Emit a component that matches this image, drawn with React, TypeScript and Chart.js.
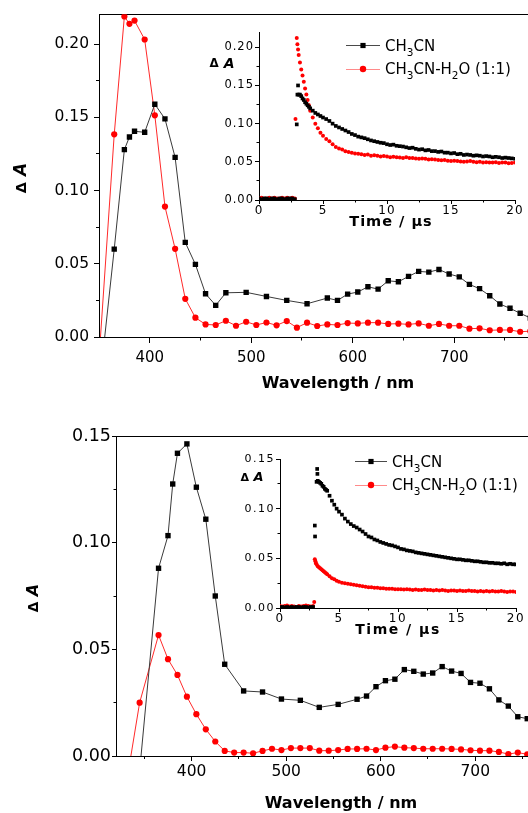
import React, { useEffect, useRef } from 'react';
import { Chart, registerables } from 'chart.js';

Chart.register(...registerables);

const FONT = '"DejaVu Sans", "Liberation Sans", sans-serif';

// ---------------- Panel A : transient spectra ----------------
const topXTicks = [400, 500, 600, 700, 800];
const topXMinor = [450, 550, 650, 750];
const topYTicks = [0, 0.05, 0.1, 0.15, 0.2];
const topYMinor = [0.025, 0.075, 0.125, 0.175];

const topBlackNm = [345, 365, 375, 380, 385, 395, 405, 415, 425, 435, 445, 455, 465, 475, 495, 515, 535, 555, 575, 585, 595, 605, 615, 625, 635, 645, 655, 665, 675, 685, 695, 705, 715, 725, 735, 745, 755, 765, 775];
const topBlackVal = [-0.068, 0.06, 0.128, 0.1366, 0.1405, 0.1398, 0.159, 0.149, 0.1227, 0.0646, 0.0496, 0.0295, 0.0216, 0.0302, 0.0305, 0.0277, 0.025, 0.0227, 0.0266, 0.025, 0.0293, 0.0307, 0.0343, 0.0327, 0.0384, 0.0377, 0.0414, 0.0448, 0.0443, 0.0461, 0.043, 0.0411, 0.0359, 0.033, 0.0282, 0.0225, 0.0196, 0.0162, 0.013];
const topRedNm = [345, 365, 375, 380, 385, 395, 405, 415, 425, 435, 445, 455, 465, 475, 485, 495, 505, 515, 525, 535, 545, 555, 565, 575, 585, 595, 605, 615, 625, 635, 645, 655, 665, 675, 685, 695, 705, 715, 725, 735, 745, 755, 765, 775];
const topRedVal = [-0.066, 0.1384, 0.2189, 0.2139, 0.2161, 0.2032, 0.1514, 0.0891, 0.0602, 0.0261, 0.0132, 0.0086, 0.0082, 0.0111, 0.0077, 0.0104, 0.0082, 0.0099, 0.008, 0.0109, 0.0064, 0.0098, 0.0075, 0.0086, 0.0082, 0.0095, 0.0093, 0.0098, 0.0098, 0.0089, 0.0091, 0.0086, 0.0093, 0.0077, 0.0089, 0.0077, 0.0077, 0.0057, 0.0059, 0.0046, 0.0048, 0.0048, 0.0036, 0.004];

// ---------------- Panel B : transient spectra ----------------
const botXTicks = [400, 500, 600, 700];
const botXMinor = [350, 450, 550, 650, 750];
const botYTicks = [0, 0.05, 0.1, 0.15];
const botYMinor = [0.025, 0.075, 0.125];

const botBlackNm = [345, 365, 375, 380, 385, 395, 405, 415, 425, 435, 455, 475, 495, 515, 535, 555, 575, 585, 595, 605, 615, 625, 635, 645, 655, 665, 675, 685, 695, 705, 715, 725, 735, 745, 755, 765];
const botBlackVal = [-0.007, 0.088, 0.1033, 0.1275, 0.1419, 0.1463, 0.126, 0.111, 0.075, 0.043, 0.0305, 0.03, 0.0267, 0.0261, 0.0228, 0.0242, 0.0266, 0.0281, 0.0325, 0.0353, 0.036, 0.0405, 0.0397, 0.0384, 0.0389, 0.0419, 0.0398, 0.0387, 0.0345, 0.0341, 0.0315, 0.0263, 0.0234, 0.0184, 0.0175, 0.016];
const botRedNm = [325, 345, 365, 375, 385, 395, 405, 415, 425, 435, 445, 455, 465, 475, 485, 495, 505, 515, 525, 535, 545, 555, 565, 575, 585, 595, 605, 615, 625, 635, 645, 655, 665, 675, 685, 695, 705, 715, 725, 735, 745, 755, 765];
const botRedVal = [-0.029, 0.025, 0.0567, 0.0454, 0.038, 0.0278, 0.0196, 0.0125, 0.0068, 0.0024, 0.0016, 0.0016, 0.0013, 0.0024, 0.0034, 0.0028, 0.0037, 0.0037, 0.0037, 0.0025, 0.0025, 0.0028, 0.0033, 0.0033, 0.0034, 0.0028, 0.0039, 0.0044, 0.0039, 0.0037, 0.0034, 0.0034, 0.0034, 0.0033, 0.0031, 0.0027, 0.0025, 0.0025, 0.0019, 0.0009, 0.0016, 0.0008, 0.001];

// ---------------- Insets : kinetic traces ----------------
const insetXTicks = [0, 5, 10, 15, 20];
const insetXMinor = [2.5, 7.5, 12.5, 17.5];
const topInsetYTicks = [0, 0.05, 0.1, 0.15, 0.2];
const topInsetYMinor = [0.025, 0.075, 0.125, 0.175];
const botInsetYTicks = [0, 0.05, 0.1, 0.15];
const botInsetYMinor = [0.025, 0.075, 0.125];

const preT = [0, 0.2, 0.4, 0.6, 0.8, 1.0, 1.2, 1.4, 1.6, 1.8, 2.0, 2.2, 2.4, 2.6, 2.8];
const riseT = [3.1, 3.2, 3.3, 3.4, 3.5, 3.6, 3.7, 3.8, 3.9, 4.0, 4.2, 4.4, 4.6, 4.8, 5.0];
const tailT = [5.25, 5.5, 5.75, 6, 6.25, 6.5, 6.75, 7, 7.25, 7.5, 7.75, 8, 8.25, 8.5, 8.75, 9, 9.25, 9.5, 9.75, 10, 10.25, 10.5, 10.75, 11, 11.25, 11.5, 11.75, 12, 12.25, 12.5, 12.75, 13, 13.25, 13.5, 13.75, 14, 14.25, 14.5, 14.75, 15, 15.25, 15.5, 15.75, 16, 16.25, 16.5, 16.75, 17, 17.25, 17.5, 17.75, 18, 18.25, 18.5, 18.75, 19, 19.25, 19.5, 19.75, 20];
const decayT = [...riseT, ...tailT];

// inset A, CH3CN
const aBlackPre = [0.002, 0.001, 0.002, 0.002, 0.001, 0.002, 0.002, 0.001, 0.002, 0.002, 0.001, 0.002, 0.002, 0.002, 0.001];
const aBlackOnsetT = [2.95, 3.0, 3.05];
const aBlackOnsetV = [0.099, 0.138, 0.15];
const aBlackDecay = [0.138, 0.138, 0.136, 0.133, 0.131, 0.128, 0.126, 0.124, 0.122, 0.12, 0.117, 0.114, 0.112, 0.11, 0.108,
  0.106, 0.1035, 0.1, 0.097, 0.095, 0.093, 0.091, 0.089, 0.0865, 0.085,
  0.083, 0.082, 0.081, 0.0795, 0.078, 0.077, 0.076, 0.075, 0.0745, 0.073,
  0.072, 0.0725, 0.071, 0.0705, 0.07, 0.069, 0.068, 0.0685, 0.067, 0.066,
  0.0665, 0.065, 0.0655, 0.064, 0.064, 0.063, 0.0635, 0.062, 0.062, 0.061,
  0.0615, 0.06, 0.0605, 0.059, 0.0595, 0.059, 0.058, 0.0585, 0.058, 0.057,
  0.0575, 0.057, 0.056, 0.0565, 0.056, 0.055, 0.0555, 0.055, 0.0545, 0.054];
// inset A, CH3CN-H2O
const aRedPre = [0.002, 0.003, 0.002, 0.002, 0.003, 0.002, 0.003, 0.002, 0.002, 0.003, 0.002, 0.003, 0.002, 0.003, 0.002];
const aRedOnsetT = [2.85, 2.95, 3.0, 3.05];
const aRedOnsetV = [0.106, 0.212, 0.204, 0.197];
const aRedDecay = [0.19, 0.18, 0.171, 0.163, 0.155, 0.146, 0.138, 0.131, 0.124, 0.117, 0.108, 0.1, 0.094, 0.088, 0.084,
  0.08, 0.077, 0.073, 0.0695, 0.0675, 0.066, 0.064, 0.063, 0.062, 0.061,
  0.0605, 0.06, 0.059, 0.0595, 0.058, 0.0585, 0.058, 0.057, 0.0575, 0.057,
  0.056, 0.0565, 0.056, 0.0555, 0.055, 0.056, 0.055, 0.055, 0.0545, 0.054,
  0.0545, 0.054, 0.053, 0.0535, 0.053, 0.0525, 0.052, 0.0525, 0.0515, 0.051,
  0.0515, 0.051, 0.0505, 0.05, 0.0505, 0.051, 0.05, 0.0495, 0.05, 0.049,
  0.0495, 0.049, 0.049, 0.0495, 0.0485, 0.049, 0.049, 0.048, 0.0485, 0.049];
// inset B, CH3CN
const bBlackPre = [0.001, 0.001, 0.0005, 0.001, 0.0005, 0.001, 0.0005, 0.001, 0.001, 0.0005, 0.001, 0.001, 0.0005, 0.001, 0.001];
const bBlackOnsetT = [2.95, 2.97, 3.15, 3.17];
const bBlackOnsetV = [0.083, 0.072, 0.14, 0.135];
const bBlackDecay = [0.127, 0.128, 0.127, 0.126, 0.125, 0.123, 0.122, 0.12, 0.119, 0.118, 0.113, 0.108, 0.104, 0.1, 0.097,
  0.094, 0.09, 0.087, 0.0845, 0.0825, 0.081, 0.079, 0.077, 0.0745, 0.072,
  0.071, 0.069, 0.068, 0.0665, 0.0655, 0.0645, 0.0635, 0.063, 0.062, 0.061,
  0.0595, 0.059, 0.058, 0.0575, 0.057, 0.056, 0.0555, 0.055, 0.0545, 0.054,
  0.0535, 0.053, 0.0525, 0.052, 0.0515, 0.051, 0.0505, 0.05, 0.0495, 0.049,
  0.049, 0.0485, 0.048, 0.048, 0.0475, 0.047, 0.047, 0.0465, 0.046, 0.046,
  0.0455, 0.0455, 0.045, 0.045, 0.0445, 0.045, 0.044, 0.0445, 0.044, 0.044];
// inset B, CH3CN-H2O
const bRedPre = [0.002, 0.0015, 0.002, 0.0025, 0.0015, 0.002, 0.0015, 0.001, 0.002, 0.0015, 0.002, 0.0025, 0.002, 0.0015, 0.002];
const bRedOnsetT = [2.9, 2.95, 3.0, 3.05];
const bRedOnsetV = [0.006, 0.049, 0.047, 0.045];
const bRedDecay = [0.044, 0.042, 0.041, 0.04, 0.039, 0.038, 0.037, 0.036, 0.035, 0.034, 0.032, 0.03, 0.029, 0.0275, 0.0265,
  0.0255, 0.025, 0.0245, 0.024, 0.0235, 0.023, 0.0225, 0.022, 0.0215, 0.021,
  0.021, 0.0205, 0.0205, 0.02, 0.02, 0.0195, 0.0195, 0.0195, 0.019, 0.019,
  0.019, 0.0185, 0.019, 0.0185, 0.018, 0.0185, 0.018, 0.018, 0.0185, 0.018,
  0.018, 0.0175, 0.018, 0.0175, 0.018, 0.0175, 0.017, 0.0175, 0.0175, 0.017,
  0.0175, 0.017, 0.017, 0.0175, 0.017, 0.017, 0.0165, 0.017, 0.0165, 0.017,
  0.0165, 0.017, 0.0165, 0.0165, 0.017, 0.0165, 0.016, 0.0165, 0.0165, 0.016];

const legendLabels: [string, boolean][][] = [
  [['CH', false], ['3', true], ['CN', false]],
  [['CH', false], ['3', true], ['CN-H', false], ['2', true], ['O (1:1)', false]],
];

// ---------------- helpers ----------------
type Pt = { x: number; y: number };
const pts = (xs: number[], ys: number[]): Pt[] => xs.map((x, i) => ({ x, y: ys[i] }));

const alignPx = (p: number) => Math.round(p - 0.5) + 0.5;

interface Axis {
  min: number; max: number; ticks: number[]; minor: number[];
  font: number; pad: number; tickLen: number; minorLen: number;
  fmt: (v: number) => string;
}

function scaleOpts(a: Axis, pos: 'bottom' | 'left', size: number, title?: any) {
  return {
    type: 'linear',
    position: pos,
    min: a.min,
    max: a.max,
    afterBuildTicks: (s: any) => { s.ticks = a.ticks.map((v) => ({ value: v })); },
    afterFit: (s: any) => { if (pos === 'left') s.width = size; else s.height = size; },
    ticks: {
      font: { family: FONT, size: a.font },
      color: '#000',
      padding: a.pad,
      maxRotation: 0,
      autoSkip: false,
      callback: (v: any) => a.fmt(Number(v)),
    },
    grid: { display: true, drawOnChartArea: false, drawTicks: true, tickLength: a.tickLen, tickColor: '#000', tickWidth: 1 },
    border: { display: true, color: '#000', width: 1 },
    title: title || { display: false },
  };
}

function drawMinor(chart: any, id: string, a: Axis) {
  const s = chart.scales[id];
  const ctx = chart.ctx;
  ctx.save();
  ctx.strokeStyle = '#000';
  ctx.lineWidth = 1;
  ctx.beginPath();
  for (const v of a.minor) {
    if (v <= a.min || v > a.max) continue;
    const p = alignPx(s.getPixelForValue(v));
    if (s.isHorizontal()) {
      ctx.moveTo(p, s.top);
      ctx.lineTo(p, s.top + a.minorLen);
    } else {
      ctx.moveTo(s.right - a.minorLen, p);
      ctx.lineTo(s.right, p);
    }
  }
  ctx.stroke();
  ctx.restore();
}

function drawDeltaA(ctx: any, cx: number, cy: number, size: number, rotate: boolean) {
  ctx.save();
  ctx.translate(cx, cy);
  if (rotate) ctx.rotate(-Math.PI / 2);
  ctx.fillStyle = '#000';
  ctx.textBaseline = 'middle';
  ctx.textAlign = 'left';
  const f1 = `bold ${size * 0.85}px ${FONT}`;
  const f2 = `italic bold ${size}px ${FONT}`;
  ctx.font = f1;
  const w1 = ctx.measureText('Δ').width;
  const gap = size * 0.35;
  ctx.font = f2;
  const w2 = ctx.measureText('A').width;
  const start = -(w1 + gap + w2) / 2;
  ctx.font = f1;
  ctx.fillText('Δ', start, 0);
  ctx.font = f2;
  ctx.fillText('A', start + w1 + gap, 0);
  ctx.restore();
}

function drawRich(ctx: any, x: number, cy: number, parts: [string, boolean][], size: number) {
  ctx.save();
  ctx.fillStyle = '#000';
  ctx.textAlign = 'left';
  ctx.textBaseline = 'alphabetic';
  const base = cy + size * 0.365;
  let cx = x;
  for (const [t, sub] of parts) {
    ctx.font = `${sub ? size * 0.7 : size}px ${FONT}`;
    ctx.fillText(t, cx, sub ? base + size * 0.33 : base);
    cx += ctx.measureText(t).width;
  }
  ctx.restore();
}

interface MainSpec {
  W: number; H: number;
  area: { left: number; top: number; right: number; bottom: number };
  x: Axis; y: Axis;
  titleSize: number; titlePad: number;
  delta: { x: number; y: number; size: number };
  black: Pt[]; red: Pt[];
}

function mainConfig(m: MainSpec): any {
  return {
    type: 'scatter',
    data: {
      datasets: [
        {
          data: m.black, xAxisID: 'x', yAxisID: 'y', showLine: true,
          borderColor: '#3a3a3a', borderWidth: 1,
          pointStyle: 'rect', pointRadius: 3.8, pointBackgroundColor: '#000', pointBorderWidth: 0,
        },
        {
          data: m.red, xAxisID: 'x', yAxisID: 'y', showLine: true,
          borderColor: '#ff2a2a', borderWidth: 1,
          pointStyle: 'circle', pointRadius: 3.1, pointBackgroundColor: '#ff0000', pointBorderWidth: 0,
        },
      ],
    },
    options: {
      responsive: false,
      animation: false,
      events: [],
      layout: { padding: { left: 0, top: 0, right: m.W - m.area.right, bottom: 0 } },
      plugins: { legend: { display: false }, tooltip: { enabled: false } },
      scales: {
        x: scaleOpts(m.x, 'bottom', m.H - m.area.bottom, {
          display: true, text: 'Wavelength / nm', color: '#000',
          font: { family: FONT, size: m.titleSize, weight: 'bold' },
          padding: { top: 0, bottom: m.titlePad },
        }),
        x2: {
          type: 'linear', position: 'top', min: m.x.min, max: m.x.max,
          ticks: { display: false }, grid: { display: false },
          border: { display: true, color: '#000', width: 1 },
          afterFit: (s: any) => { s.height = m.area.top; },
        },
        y: scaleOpts(m.y, 'left', m.area.left),
      },
    },
    plugins: [
      {
        id: 'mainExtras',
        afterDraw(chart: any) {
          drawMinor(chart, 'x', m.x);
          drawMinor(chart, 'y', m.y);
          drawDeltaA(chart.ctx, m.delta.x, m.delta.y, m.delta.size, true);
        },
      },
    ],
  };
}

interface InsetSpec {
  W: number; H: number;
  area: { left: number; top: number; right: number; bottom: number };
  x: Axis; y: Axis;
  spacing: string;
  title: { x: number; y: number; size: number };
  delta: { x: number; y: number; size: number };
  legend: { x1: number; x2: number; mx: number; tx: number; y: number[]; size: number };
  black: Pt[]; red: Pt[];
}

function insetConfig(s: InsetSpec): any {
  return {
    type: 'scatter',
    data: {
      datasets: [
        {
          data: s.black, xAxisID: 'x', yAxisID: 'y', showLine: false,
          pointStyle: 'rect', pointRadius: 2.6, pointBackgroundColor: '#000', pointBorderWidth: 0,
        },
        {
          data: s.red, xAxisID: 'x', yAxisID: 'y', showLine: false,
          pointStyle: 'circle', pointRadius: 2.0, pointBackgroundColor: '#ff0000', pointBorderWidth: 0,
        },
      ],
    },
    options: {
      responsive: false,
      animation: false,
      events: [],
      layout: { padding: { left: 0, top: s.area.top, right: s.W - s.area.right, bottom: 0 } },
      plugins: { legend: { display: false }, tooltip: { enabled: false } },
      scales: {
        x: scaleOpts(s.x, 'bottom', s.H - s.area.bottom),
        y: scaleOpts(s.y, 'left', s.area.left),
      },
    },
    plugins: [
      {
        id: 'insetExtras',
        beforeLayout(chart: any) { chart.ctx.letterSpacing = s.spacing; },
        afterLayout(chart: any) { chart.ctx.letterSpacing = '0px'; },
        beforeDraw(chart: any) { chart.ctx.letterSpacing = s.spacing; },
        beforeDatasetsDraw(chart: any) { chart.ctx.letterSpacing = '0px'; },
        afterDraw(chart: any) {
          const ctx = chart.ctx;
          drawMinor(chart, 'x', s.x);
          drawMinor(chart, 'y', s.y);
          // axis title
          ctx.save();
          ctx.letterSpacing = s.spacing;
          ctx.font = `bold ${s.title.size}px ${FONT}`;
          ctx.fillStyle = '#000';
          ctx.textAlign = 'center';
          ctx.textBaseline = 'middle';
          ctx.fillText('Time / µs', s.title.x, s.title.y);
          ctx.restore();
          drawDeltaA(ctx, s.delta.x, s.delta.y, s.delta.size, false);
          // legend
          const L = s.legend;
          const styles = [
            { line: '#4a4a4a', fill: '#000', rect: true },
            { line: '#ff8a8a', fill: '#ff0000', rect: false },
          ];
          styles.forEach((st, i) => {
            const y = L.y[i];
            ctx.save();
            ctx.strokeStyle = st.line;
            ctx.lineWidth = 1;
            ctx.beginPath();
            ctx.moveTo(L.x1, alignPx(y));
            ctx.lineTo(L.x2, alignPx(y));
            ctx.stroke();
            ctx.fillStyle = st.fill;
            ctx.beginPath();
            if (st.rect) ctx.rect(L.mx - 2.6, y - 2.6, 5.2, 5.2);
            else ctx.arc(L.mx, y, 3.2, 0, Math.PI * 2);
            ctx.fill();
            ctx.restore();
            drawRich(ctx, L.tx, y, legendLabels[i], L.size);
          });
        },
      },
    ],
  };
}

const fmt2 = (v: number) => v.toFixed(2);
const fmt0 = (v: number) => String(Math.round(v));

export default function App() {
  const c1 = useRef<HTMLCanvasElement>(null);
  const c2 = useRef<HTMLCanvasElement>(null);
  const c3 = useRef<HTMLCanvasElement>(null);
  const c4 = useRef<HTMLCanvasElement>(null);

  useEffect(() => {
    const charts: Chart[] = [];
    charts.push(new Chart(c1.current as HTMLCanvasElement, mainConfig({
      W: 600, H: 400,
      area: { left: 99, top: 14, right: 577, bottom: 337 },
      x: { min: 350, max: 821, ticks: topXTicks, minor: topXMinor, font: 15, pad: 6, tickLen: 6, minorLen: 3.5, fmt: fmt0 },
      y: { min: 0, max: 0.2204, ticks: topYTicks, minor: topYMinor, font: 15.5, pad: 5, tickLen: 5, minorLen: 3, fmt: fmt2 },
      titleSize: 16, titlePad: 6.9,
      delta: { x: 22, y: 178, size: 17 },
      black: pts(topBlackNm, topBlackVal),
      red: pts(topRedNm, topRedVal),
    })));
    charts.push(new Chart(c2.current as HTMLCanvasElement, mainConfig({
      W: 590, H: 393,
      area: { left: 116, top: 16, right: 566, bottom: 336 },
      x: { min: 320, max: 796, ticks: botXTicks, minor: botXMinor, font: 15.5, pad: 2, tickLen: 5, minorLen: 3, fmt: fmt0 },
      y: { min: 0, max: 0.15, ticks: botYTicks, minor: botYMinor, font: 17.5, pad: 1, tickLen: 4, minorLen: 2.5, fmt: fmt2 },
      titleSize: 16, titlePad: 0,
      delta: { x: 34, y: 178, size: 16 },
      black: pts(botBlackNm, botBlackVal),
      red: pts(botRedNm, botRedVal),
    })));
    charts.push(new Chart(c3.current as HTMLCanvasElement, insetConfig({
      W: 325, H: 215,
      area: { left: 54, top: 10, right: 310, bottom: 178 },
      x: { min: 0, max: 20, ticks: insetXTicks, minor: insetXMinor, font: 12, pad: 0, tickLen: 4, minorLen: 2.5, fmt: fmt0 },
      y: { min: 0, max: 0.22, ticks: topInsetYTicks, minor: topInsetYMinor, font: 11.5, pad: 1, tickLen: 4, minorLen: 2.5, fmt: fmt2 },
      spacing: '1px',
      title: { x: 186, y: 200.5, size: 14.5 },
      delta: { x: 17, y: 42, size: 14 },
      legend: { x1: 141, x2: 175, mx: 158, tx: 180, y: [23.5, 47], size: 15 },
      black: [...pts(preT, aBlackPre), ...pts(aBlackOnsetT, aBlackOnsetV), ...pts(decayT, aBlackDecay)],
      red: [...pts(preT, aRedPre), ...pts(aRedOnsetT, aRedOnsetV), ...pts(decayT, aRedDecay)],
    })));
    charts.push(new Chart(c4.current as HTMLCanvasElement, insetConfig({
      W: 310, H: 190,
      area: { left: 55, top: 9, right: 291, bottom: 158 },
      x: { min: 0, max: 20, ticks: insetXTicks, minor: insetXMinor, font: 12, pad: 0, tickLen: 4, minorLen: 2.5, fmt: fmt0 },
      y: { min: 0, max: 0.15, ticks: botInsetYTicks, minor: botInsetYMinor, font: 11, pad: 1, tickLen: 4, minorLen: 2.5, fmt: fmt2 },
      spacing: '1.5px',
      title: { x: 173, y: 180, size: 14 },
      delta: { x: 27, y: 28, size: 13 },
      legend: { x1: 130, x2: 162, mx: 146, tx: 167, y: [11.5, 35], size: 15 },
      black: [...pts(preT, bBlackPre), ...pts(bBlackOnsetT, bBlackOnsetV), ...pts(decayT, bBlackDecay)],
      red: [...pts(preT, bRedPre), ...pts(bRedOnsetT, bRedOnsetV), ...pts(decayT, bRedDecay)],
    })));
    return () => charts.forEach((c) => c.destroy());
  }, []);

  const abs = (l: number, t: number, w: number, h: number): React.CSSProperties => ({
    position: 'absolute', left: l, top: t, width: w, height: h, display: 'block',
  });

  return (
    <div style={{ position: 'fixed', left: 0, top: 0, width: 528, height: 813, overflow: 'hidden', background: '#fff' }}>
      <canvas ref={c1} width={600} height={400} style={abs(0, 0, 600, 400)} />
      <canvas ref={c2} width={590} height={393} style={abs(0, 420, 590, 393)} />
      <canvas ref={c3} width={325} height={215} style={abs(205, 22, 325, 215)} />
      <canvas ref={c4} width={310} height={190} style={abs(225, 450, 310, 190)} />
    </div>
  );
}
